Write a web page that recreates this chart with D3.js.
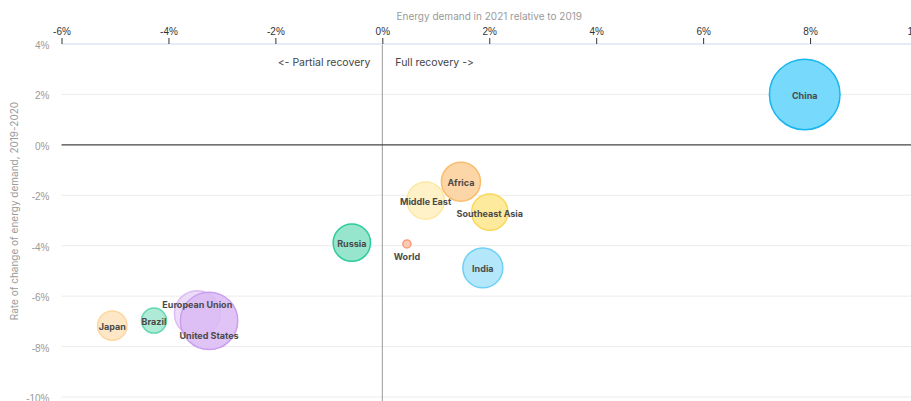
<!DOCTYPE html>
<html>
<head>
<meta charset="utf-8">
<script src="https://cdn.jsdelivr.net/npm/d3@7/dist/d3.min.js"></script>
<style>
  html, body { margin: 0; padding: 0; background: #fff; }
  svg { display: block; font-family: Inter, "Noto Sans", sans-serif; font-variant-ligatures: none; font-feature-settings: "calt" 0, "liga" 0; }
</style>
</head>
<body>
<svg id="chart" width="911" height="401"></svg>
<script>
// ---- Data ----
const regions = ["China", "Africa", "Middle East", "Southeast Asia", "Russia", "World", "India", "Japan", "Brazil", "European Union", "United States"];
const demand2021vs2019 = [7.9, 1.47, 0.81, 2.01, -0.57, 0.46, 1.88, -5.05, -4.27, -3.46, -3.24];
const change2019to2020 = [2.0, -1.46, -2.21, -2.67, -3.88, -3.93, -4.88, -7.17, -6.97, -6.69, -6.98];
const bubbleSize = [100, 30.5, 28, 26.5, 28, 1.3, 32, 17.3, 12.5, 42, 66];
const xTicks = [-6, -4, -2, 0, 2, 4, 6, 8, 10];
const yTicks = [4, 2, 0, -2, -4, -6, -8, -10];

// ---- Styles ----
const fills = {
  "China": "#5fd2fa", "Africa": "#fdcf99", "Middle East": "#fff0bf", "Southeast Asia": "#fde68c",
  "Russia": "#84e0c3", "World": "#fcbfa7", "India": "#a8e3f9", "Japan": "#fde3bd",
  "Brazil": "#a0e6cf", "European Union": "#ead6f8", "United States": "#dbbaf5"
};
const strokes = {
  "China": "#17b6ee", "Africa": "#f9bd6c", "Middle East": "#fde8a2", "Southeast Asia": "#fbd85a",
  "Russia": "#2bcc9b", "World": "#f89c7e", "India": "#6fd0f6", "Japan": "#fdd79f",
  "Brazil": "#5fd7b2", "European Union": "#dcbcf2", "United States": "#cb9ff0"
};
const labelOffset = { "European Union": -10, "United States": 14, "World": 12 };

const svg = d3.select("#chart");
const x = d3.scaleLinear().domain([-6, 10]).range([61.5, 917]);
const y = d3.scaleLinear().domain([-10, 4]).range([397, 44]);
const r = d3.scaleSqrt().domain([0, 100]).range([0, 35.3]);

// gridlines
svg.append("g").selectAll("line").data(yTicks.filter(d => d !== 0 && d !== 4)).join("line")
  .attr("x1", x(-6)).attr("x2", 911).attr("y1", d => y(d)).attr("y2", d => y(d))
  .attr("stroke", "#ececec").attr("stroke-width", 1);

// y axis labels
const yAxis = svg.append("g").attr("transform", `translate(${x(-6) - 4},0)`)
  .call(d3.axisLeft(y).tickValues(yTicks).tickSize(0).tickPadding(8).tickFormat(d => d + "%"));
yAxis.select(".domain").remove();
yAxis.selectAll("text").attr("fill", "#9a9a9a").attr("font-size", 10).attr("dy", "0.45em");

// y title
svg.append("text").attr("transform", "translate(18,211) rotate(-90)")
  .attr("text-anchor", "middle").attr("fill", "#9a9a9a").attr("font-size", 10)
  .text("Rate of change of energy demand, 2019-2020");

// vertical zero line
svg.append("line").attr("x1", x(0)).attr("x2", x(0)).attr("y1", y(4)).attr("y2", 401)
  .attr("stroke", "#9a9a9a").attr("stroke-width", 1);

// horizontal zero line
svg.append("line").attr("x1", x(-6)).attr("x2", 911).attr("y1", y(0)).attr("y2", y(0))
  .attr("stroke", "#444").attr("stroke-width", 1.2);

// top axis
const xAxis = svg.append("g").attr("transform", `translate(0,${y(4)})`)
  .call(d3.axisTop(x).tickValues(xTicks).tickSize(6).tickPadding(3).tickFormat(d => d + "%"));
xAxis.select(".domain").attr("stroke", "#dce6f5").attr("stroke-width", 1.5).attr("d", `M${x(-6)},0H911`);
xAxis.selectAll(".tick line").attr("stroke", "#333");
xAxis.selectAll("text").attr("fill", "#333").attr("font-size", 10);

// x title
svg.append("text").attr("x", x(2)).attr("y", 20).attr("text-anchor", "middle")
  .attr("fill", "#9a9a9a").attr("font-size", 10).text("Energy demand in 2021 relative to 2019");

// annotations
svg.append("text").attr("x", x(0) - 12).attr("y", 66).attr("text-anchor", "end")
  .attr("fill", "#444").attr("font-size", 10.5).text("<- Partial recovery");
svg.append("text").attr("x", x(0) + 13).attr("y", 66).attr("text-anchor", "start")
  .attr("fill", "#444").attr("font-size", 10.5).text("Full recovery ->");

// bubbles
const data = regions.map((name, i) => ({ name, xv: demand2021vs2019[i], yv: change2019to2020[i], s: bubbleSize[i] }));
svg.append("g").selectAll("circle").data(data).join("circle")
  .attr("cx", d => x(d.xv)).attr("cy", d => y(d.yv)).attr("r", d => r(d.s))
  .attr("fill", d => fills[d.name]).attr("fill-opacity", 0.85)
  .attr("stroke", d => strokes[d.name]).attr("stroke-width", 1.5);

// labels
svg.append("g").selectAll("text").data(data).join("text")
  .attr("x", d => x(d.xv)).attr("y", d => y(d.yv) + (labelOffset[d.name] || 0))
  .attr("dy", "0.5em").attr("text-anchor", "middle")
  .attr("fill", "#4a4a4a").attr("font-size", 9).attr("font-weight", 700)
  .text(d => d.name);
</script>
</body>
</html>
